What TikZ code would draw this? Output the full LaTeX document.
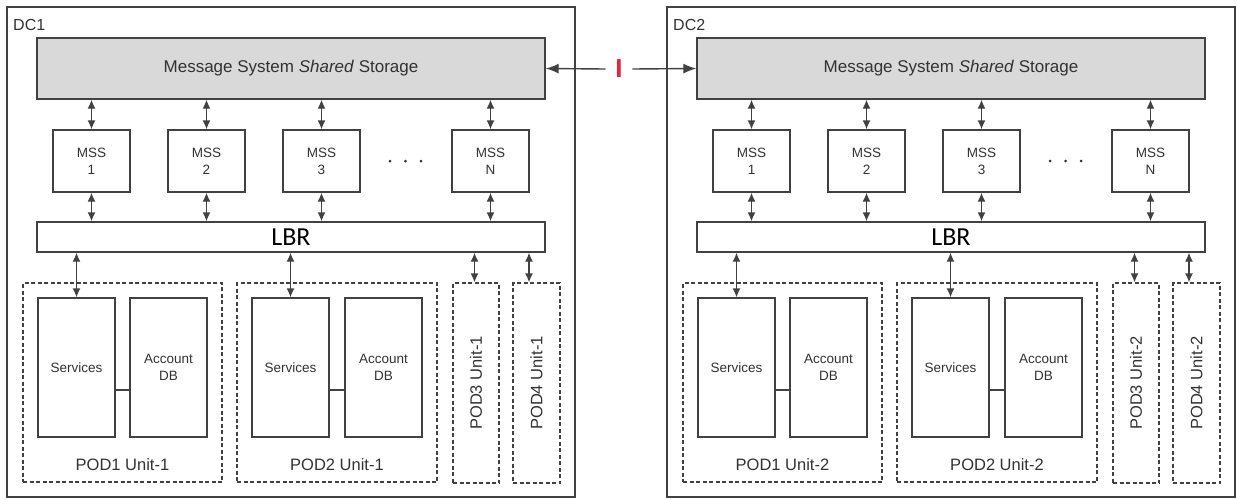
\documentclass[tikz,border=0pt]{standalone}
\usepackage{fontspec}
\setmainfont{Liberation Sans}
\newfontfamily\lbrfont{Carlito}
\usetikzlibrary{arrows.meta}
\definecolor{txtgray}{RGB}{50,50,50}
\definecolor{linegray}{RGB}{65,65,65}
\definecolor{fillgray}{RGB}{217,217,217}
\definecolor{redI}{RGB}{232,35,60}
\begin{document}
\begin{tikzpicture}[x=1pt,y=-1pt,
  every node/.style={inner sep=0pt, text=txtgray},
  dcbox/.style={draw=linegray, line width=1.5pt, minimum width=568pt, minimum height=490pt},
  solidbox/.style={draw=linegray, line width=1.4pt},
  storage/.style={solidbox, fill=fillgray, minimum width=508pt, minimum height=61pt, font=\fontsize{17}{20}\selectfont},
  mss/.style={solidbox, minimum width=77pt, minimum height=62pt, align=center, font=\fontsize{13.5}{17}\selectfont},
  lbr/.style={solidbox, minimum width=508pt, minimum height=30pt, font=\lbrfont\fontsize{26}{28}\selectfont, text=black},
  podbox/.style={draw=linegray, line width=1.3pt, dash pattern=on 4pt off 2.5pt, minimum height=199pt},
  inbox/.style={solidbox, minimum width=77pt, minimum height=139pt, align=center, font=\fontsize{13.5}{16.5}\selectfont},
  podlabel/.style={font=\fontsize{16.5}{19}\selectfont},
  dclabel/.style={font=\fontsize{16}{19}\selectfont, anchor=base west},
  conn/.style={draw=linegray, line width=1.4pt},
  arr/.style={conn, {Latex[length=9pt,width=8pt]}-{Latex[length=9pt,width=8pt]}},
  tip/.style={conn, -{Latex[length=13pt,width=10pt]}}
]
\useasboundingbox (0,0) rectangle (1237,499);
\foreach \d/\dx in {1/0,2/660}{
\begin{scope}[xshift=\dx pt]
  \node[dcbox] (dc\d) at (291,252) {};
  \node[dclabel] (dcl\d) at (13,30) {DC\d};
  \node[storage] (st\d) at (291,68.5) {Message System \textit{Shared} Storage};
  \node[mss] (ma\d) at (91.5,161) {MSS\\1};
  \node[mss] (mb\d) at (206.5,161) {MSS\\2};
  \node[mss] (mc\d) at (321.5,161) {MSS\\3};
  \node[mss] (mn\d) at (490.5,161) {MSS\\N};
  \fill[txtgray] (390,161) circle (1.5) (405.5,161) circle (1.5) (421,161) circle (1.5);
  \node[lbr] (lbr\d) at (291,237) {LBR};
  \node[podbox, minimum width=199pt] (pa\d) at (122.5,382.5) {};
  \node[inbox] (sa\d) at (76.5,367.5) {Services};
  \node[inbox] (aa\d) at (168.5,367.5) {Account\\DB};
  \node[podlabel] (la\d) at (122.5,465) {POD1 Unit-\d};
  \node[podbox, minimum width=200pt] (pb\d) at (337,382.5) {};
  \node[inbox] (sb\d) at (290.5,367.5) {Services};
  \node[inbox] (ab\d) at (383.5,367.5) {Account\\DB};
  \node[podlabel] (lb\d) at (337,465) {POD2 Unit-\d};
  \node[podbox, minimum width=46pt, minimum height=200pt] (pc\d) at (476,383) {};
  \node[podlabel, rotate=90] (lc\d) at (476,383) {POD3 Unit-\d};
  \node[podbox, minimum width=47pt, minimum height=200pt] (pd\d) at (536.5,383) {};
  \node[podlabel, rotate=90] (ld\d) at (536.5,383) {POD4 Unit-\d};
  \foreach \m in {ma,mb,mc,mn}{
    \draw[arr] (\m\d.north |- st\d.south) -- (\m\d.north);
    \draw[arr] (\m\d.south) -- (\m\d.south |- lbr\d.north);
  }
  \draw[arr] (sa\d.north |- lbr\d.south) -- (sa\d.north);
  \draw[arr] (sb\d.north |- lbr\d.south) -- (sb\d.north);
  \draw[arr] ([xshift=-1.5pt]pc\d.north |- lbr\d.south) -- ([xshift=-1.5pt]pc\d.north);
  \draw[arr] ([xshift=-7.5pt]pd\d.north |- lbr\d.south) -- ([xshift=-7.5pt]pd\d.north);
  \draw[conn] ([yshift=-22.5pt]sa\d.east) -- ([yshift=-22.5pt]aa\d.west);
  \draw[conn] ([yshift=-22.5pt]sb\d.east) -- ([yshift=-22.5pt]ab\d.west);
\end{scope}
}
\node[text=redI, font=\bfseries\fontsize{26}{28}\selectfont, inner xsep=9.5pt] (gap) at (619,69) {I};
\draw[tip] (gap.west) -- (st1.east);
\draw[tip] (gap.east) -- (st2.west);
\end{tikzpicture}
\end{document}
